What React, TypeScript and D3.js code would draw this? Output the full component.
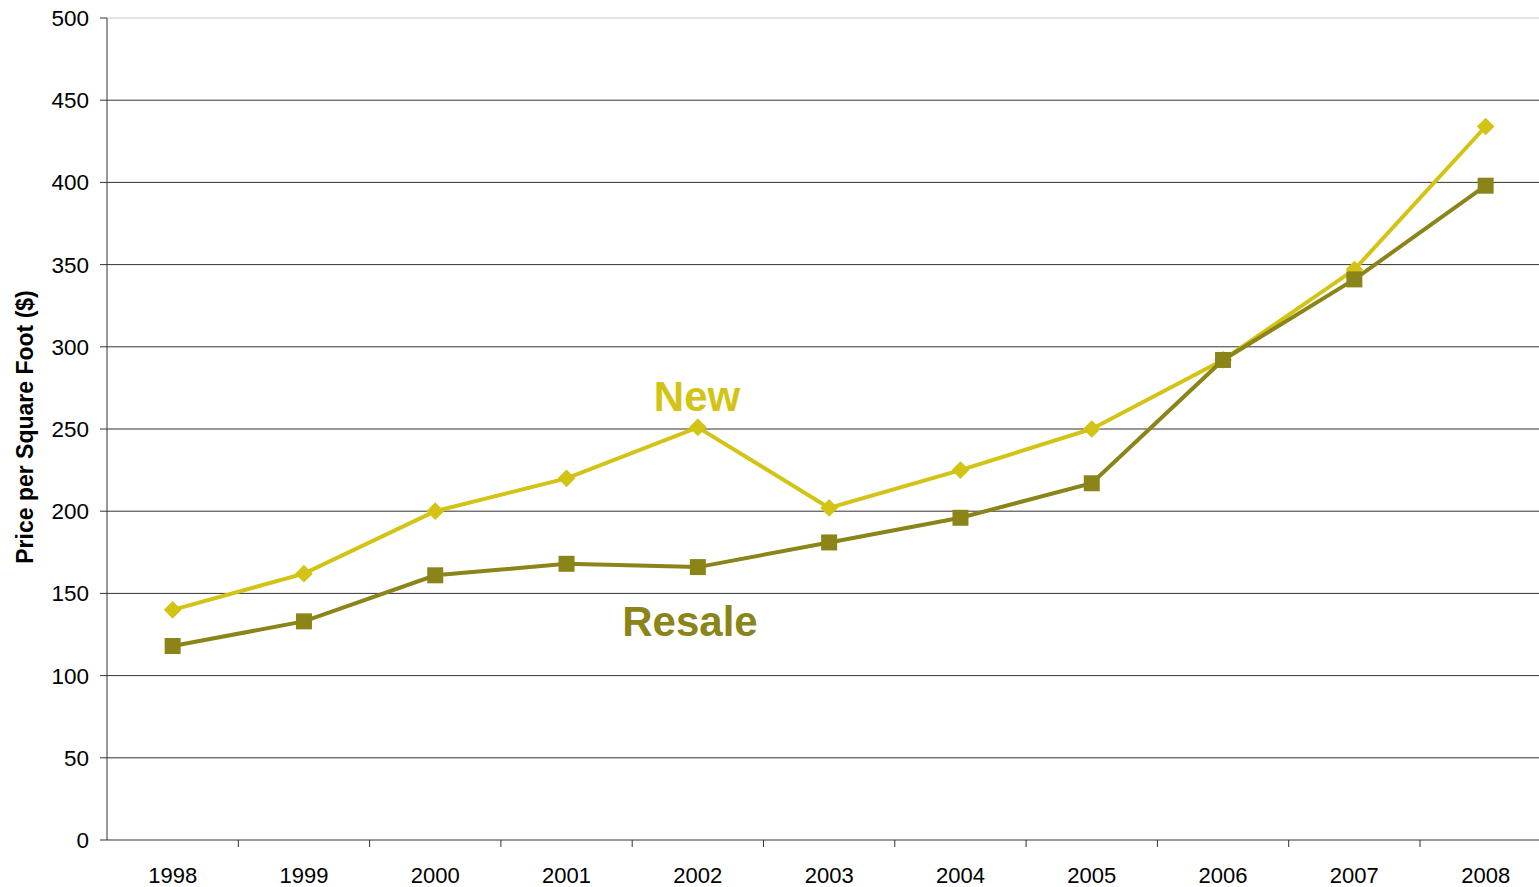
import React from "react";
import * as d3 from "d3";

const years = ["1998", "1999", "2000", "2001", "2002", "2003", "2004", "2005", "2006", "2007", "2008"];
const newPrices = [140, 162, 200, 220, 251, 202, 225, 250, 292, 347, 434];
const resalePrices = [118, 133, 161, 168, 166, 181, 196, 217, 292, 341, 398];
const yTicks = [0, 50, 100, 150, 200, 250, 300, 350, 400, 450, 500];

const W = 1539, H = 887;
const left = 107, top = 18, bottom = 840;
const band = 131.3;
const newColor = "#d2c314";
const resaleColor = "#8a8419";

export default function App() {
  const x = d3.scaleBand<string>().domain(years).range([left, left + band * years.length]);
  const y = d3.scaleLinear().domain([0, 500]).range([bottom, top]);
  const cx = (d: string) => (x(d) as number) + x.bandwidth() / 2;
  const line = d3.line<number>().x((_, i) => cx(years[i])).y((v) => y(v));
  const font = "Arial, 'Liberation Sans', sans-serif";
  const diamond = d3.symbol().type(d3.symbolDiamond2).size(200)()!;
  return (
    <svg width={W} height={H} style={{ position: "absolute", left: 0, top: 0 }} fontFamily={font}>
      <defs>
        <clipPath id="plot"><rect x={0} y={0} width={W} height={H} /></clipPath>
      </defs>
      {yTicks.map((t) => (
        <g key={t}>
          {t > 0 && <line x1={left} x2={W} y1={y(t)} y2={y(t)} stroke={t === 500 ? "#c8c8c8" : "#333"} strokeWidth={1} />}
          <line x1={left - 7} x2={left} y1={y(t)} y2={y(t)} stroke="#333" />
          <text x={89} y={y(t) + 8} textAnchor="end" fontSize={22.5} fill="#000">{t}</text>
        </g>
      ))}
      <line x1={left} x2={left} y1={top} y2={bottom} stroke="#333" />
      <line x1={left} x2={W} y1={bottom} y2={bottom} stroke="#333" />
      {years.map((yr, i) => (
        <g key={yr}>
          {i > 0 && <line x1={x(yr)} x2={x(yr)} y1={bottom} y2={bottom + 7} stroke="#333" />}
          <text x={cx(yr)} y={883} textAnchor="middle" fontSize={22} fill="#000">{yr}</text>
        </g>
      ))}
      <text transform={`translate(33,427) rotate(-90)`} textAnchor="middle" fontSize={23} fontWeight="bold" fill="#000">Price per Square Foot ($)</text>
      <g clipPath="url(#plot)">
        <path d={line(newPrices)!} fill="none" stroke={newColor} strokeWidth={4} />
        {newPrices.map((v, i) => (
          <path key={i} d={diamond} transform={`translate(${cx(years[i])},${y(v)})`} fill={newColor} />
        ))}
        <path d={line(resalePrices)!} fill="none" stroke={resaleColor} strokeWidth={4} />
        {resalePrices.map((v, i) => (
          <rect key={i} x={cx(years[i]) - 8} y={y(v) - 8} width={16} height={16} fill={resaleColor} />
        ))}
      </g>
      <text x={697} y={411} textAnchor="middle" fontSize={42} fontWeight="bold" fill={newColor}>New</text>
      <text x={690} y={636} textAnchor="middle" fontSize={42} fontWeight="bold" fill={resaleColor}>Resale</text>
    </svg>
  );
}
